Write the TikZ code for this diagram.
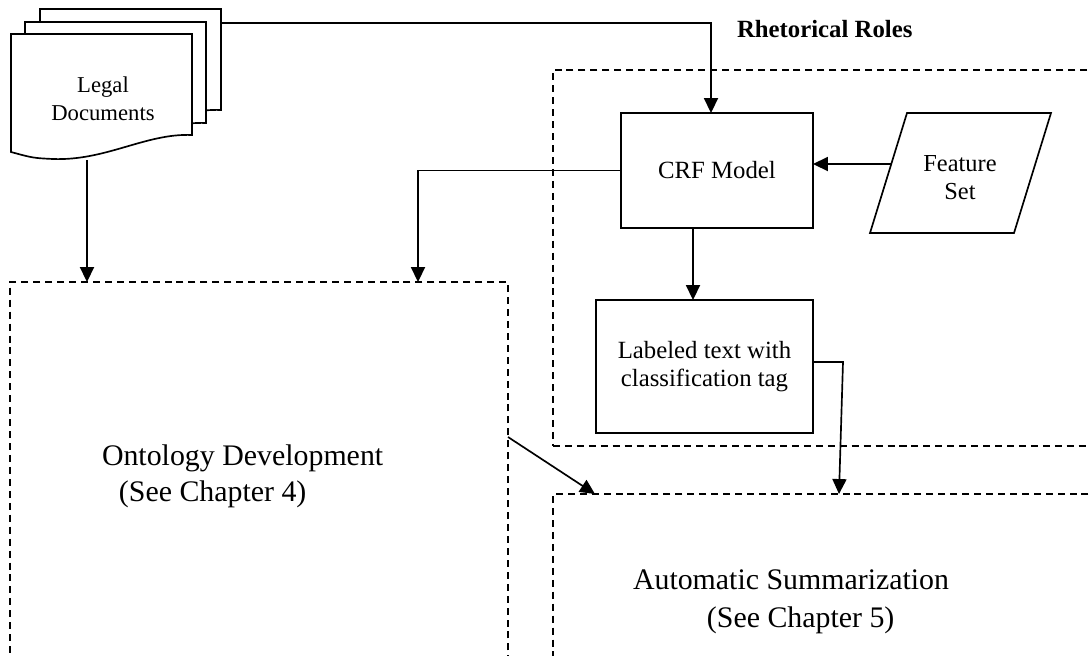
\documentclass[tikz,border=0pt]{standalone}
\usepackage{fontspec}
\setmainfont{Liberation Serif}
\usetikzlibrary{arrows.meta}
\newcommand\pxu{0.02cm}
\begin{document}
\begin{tikzpicture}[x=0.02cm, y=-0.02cm, line width=0.95pt,
  arr/.style={-{Triangle[length=8.5pt,width=8pt]}},
  solidbox/.style={draw, rectangle, inner sep=0pt, outer sep=0pt, align=center,
    font=\fontsize{14.1pt}{15.9pt}\selectfont},
  dashbox/.style={draw, rectangle, dash pattern=on 4pt off 2.8pt,
    inner sep=0pt, outer sep=0pt, anchor=north west},
  plain/.style={inner sep=0pt, outer sep=0pt, align=center},
  docpic/.pic={
    \draw[fill=white] (0,0) -- (181,0) -- (181,101)
      .. controls (135,99) and (95,127) .. (42,125)
      .. controls (22,124) .. (0,118) -- cycle;
  }]
\useasboundingbox (0,0) rectangle (1089,656);
\clip (0,0) rectangle (1089,656);

% stacked legal documents
\pic at (40,9) {docpic};
\pic at (25,22) {docpic};
\pic at (11,34) {docpic};
\node[plain, font=\fontsize{12.9pt}{15.9pt}\selectfont] (docs) at (103,99) {Legal\\Documents};
\coordinate (docs-out) at (221,23);
\coordinate (docs-foot) at (87,160);

% rhetorical role labelling block
\node[dashbox, minimum width=557*\pxu, minimum height=376*\pxu] (rhet) at (553,70) {};
\node[plain, anchor=west, font=\bfseries\fontsize{14.1pt}{16pt}\selectfont] (rhet-title) at (737,29) {Rhetorical Roles};

\node[solidbox, minimum width=192*\pxu, minimum height=115*\pxu] (crf) at (717,170.5) {CRF Model};
\node[solidbox, minimum width=217*\pxu, minimum height=133*\pxu] (lab) at (704.5,366.5) {Labeled text with\\classification tag};

% feature set (parallelogram)
\coordinate (f1) at (907,113);
\coordinate (f2) at (1051,113);
\coordinate (f3) at (1014,233);
\coordinate (f4) at (870,233);
\draw (f1) -- (f2) -- (f3) -- (f4) -- cycle;
\node[plain, font=\fontsize{13.9pt}{15.9pt}\selectfont] (feat) at (960,178) {Feature\\Set};
\coordinate (feat-left) at (891,164);

% ontology and summarization blocks
\node[dashbox, minimum width=498*\pxu, minimum height=420*\pxu] (onto) at (10,282) {};
\node[plain, anchor=west, align=left, font=\fontsize{17pt}{20.5pt}\selectfont] (onto-label) at (102,476)
  {Ontology Development\\\hspace*{0.34cm}(See Chapter 4)};
\node[dashbox, minimum width=557*\pxu, minimum height=210*\pxu] (summ) at (553,494) {};
\node[plain, anchor=west, align=left, font=\fontsize{17pt}{21.5pt}\selectfont] (summ-label) at (633,602)
  {Automatic Summarization\\\hspace*{1.48cm}(See Chapter 5)};

\coordinate (ont-in1) at (87,282);
\coordinate (ont-in2) at (418,282);
\coordinate (ont-out) at (508,437);
\coordinate (sum-in1) at (595,494);
\coordinate (sum-in2) at (839,494);
\coordinate (crf-in) at (711,113);
\coordinate (crf-out) at (693,228);

% connectors
\draw[arr] (docs-out) -| (crf-in);
\draw[arr] (docs-foot) -- (ont-in1);
\draw[arr] (crf.west) -| (ont-in2);
\draw[arr] (feat-left) -- (feat-left -| crf.east);
\draw[arr] (crf-out) -- (crf-out |- lab.north);
\draw[arr] ([yshift=0.09cm]lab.east) -- ++(30,0) -- (sum-in2);
\draw[arr] (ont-out) -- (sum-in1);
\end{tikzpicture}
\end{document}
